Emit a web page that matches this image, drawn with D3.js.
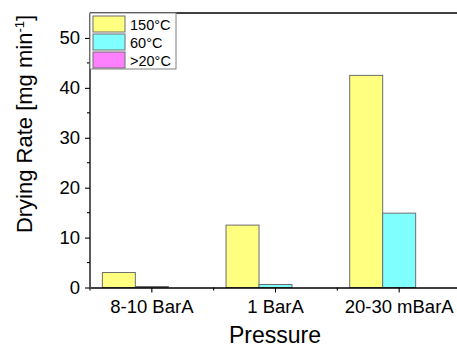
<!DOCTYPE html>
<html>
<head>
<meta charset="utf-8">
<script src="https://cdn.jsdelivr.net/npm/d3@7"></script>
<style>
  html, body { margin: 0; padding: 0; background: #fff; }
  svg { display: block; font-family: "Liberation Sans", Arial, sans-serif; }
</style>
</head>
<body>
<svg id="chart" width="457" height="349"></svg>
<script>
// Pressure conditions on the x axis
const categories = ["8-10 BarA", "1 BarA", "20-30 mBarA"];
// Drying temperature series
const seriesNames = ["150°C", "60°C", ">20°C"];
const rate150 = [3.0, 12.5, 42.5];
const rate60 = [0.2, 0.6, 14.9];
const rate20 = [0, 0, 0];
const seriesValues = [rate150, rate60, rate20];
const seriesColors = ["#ffff80", "#80ffff", "#ff80ff"];
const yTicks = [0, 10, 20, 30, 40, 50];
const yMinorTicks = [5, 15, 25, 35, 45];

const svg = d3.select("#chart");
const plotLeft = 90, plotRight = 461, plotTop = 13, plotBottom = 287.5;

const x = d3.scaleBand().domain(categories).range([plotLeft, plotRight]).paddingInner(0).paddingOuter(0);
const y = d3.scaleLinear().domain([0, 55]).range([plotBottom, plotTop]);

// Series positions inside each pressure group (80% of the band used)
const xs = d3.scaleBand().domain(seriesNames)
  .range([x.bandwidth() * 0.1, x.bandwidth() * 0.9]).padding(0);

const barData = [];
categories.forEach((c, i) => {
  seriesNames.forEach((s, j) => {
    barData.push({ cat: c, series: s, value: seriesValues[j][i], color: seriesColors[j] });
  });
});

svg.append("g").selectAll("rect").data(barData).join("rect")
  .attr("x", d => x(d.cat) + xs(d.series))
  .attr("y", d => y(d.value))
  .attr("width", xs.bandwidth())
  .attr("height", d => y(0) - y(d.value))
  .attr("fill", d => d.color)
  .attr("stroke", "#6e6e6e")
  .attr("stroke-width", 1);

// Top frame line
svg.append("line")
  .attr("x1", plotLeft).attr("x2", plotRight)
  .attr("y1", plotTop).attr("y2", plotTop)
  .attr("stroke", "#000").attr("stroke-width", 1.3);

// Y axis
const yAxis = svg.append("g").attr("transform", `translate(${plotLeft},0)`)
  .call(d3.axisLeft(y).tickValues(yTicks).tickSize(5).tickPadding(5).tickSizeOuter(0));
yAxis.select(".domain").attr("stroke-width", 1.3)
  .attr("d", `M0,${plotTop}V${plotBottom}`);
yAxis.selectAll(".tick line").attr("stroke-width", 1.1);
yAxis.selectAll(".tick text").attr("font-size", 18.5).attr("font-family", "Liberation Sans, Arial, sans-serif").attr("fill", "#000");
yAxis.selectAll(".minor").data(yMinorTicks).join("line")
  .attr("class", "minor")
  .attr("x1", -3).attr("x2", 0)
  .attr("y1", d => y(d)).attr("y2", d => y(d))
  .attr("stroke", "#000").attr("stroke-width", 1.1);

// X axis
const xAxis = svg.append("g").attr("transform", `translate(0,${plotBottom})`)
  .call(d3.axisBottom(x).tickSize(5).tickPadding(7).tickSizeOuter(0));
xAxis.select(".domain").attr("stroke-width", 1.3);
xAxis.selectAll(".tick line").attr("stroke-width", 1.1);
xAxis.selectAll(".tick text").attr("font-size", 18.5).attr("font-family", "Liberation Sans, Arial, sans-serif").attr("fill", "#000");
xAxis.selectAll(".minor").data(categories).join("line")
  .attr("class", "minor")
  .attr("x1", d => x(d)).attr("x2", d => x(d))
  .attr("y1", 0).attr("y2", 3)
  .attr("stroke", "#000").attr("stroke-width", 1.1);

// Axis titles
svg.append("text")
  .attr("x", 275).attr("y", 343)
  .attr("text-anchor", "middle")
  .attr("font-size", 23)
  .text("Pressure");

const yTitle = svg.append("text")
  .attr("transform", "translate(32,124) rotate(-90)")
  .attr("text-anchor", "middle")
  .attr("font-size", 22);
yTitle.append("tspan").text("Drying Rate [mg min");
yTitle.append("tspan").attr("font-size", 13).attr("dy", -8).text("-1");
yTitle.append("tspan").attr("dy", 8).text("]");

// Legend
const legend = svg.append("g").attr("transform", `translate(${plotLeft},${plotTop})`);
legend.append("rect")
  .attr("x", 0).attr("y", 0).attr("width", 86).attr("height", 56)
  .attr("fill", "#fff").attr("stroke", "#808080").attr("stroke-width", 1);
const items = legend.selectAll("g.item").data(seriesNames).join("g")
  .attr("class", "item")
  .attr("transform", (d, i) => `translate(3,${3 + i * 18})`);
items.append("rect")
  .attr("width", 32).attr("height", 16)
  .attr("fill", (d, i) => seriesColors[i])
  .attr("stroke", "#6e6e6e").attr("stroke-width", 1);
items.append("text")
  .attr("x", 37).attr("y", 13.5)
  .attr("font-size", 14.5)
  .text(d => d);
</script>
</body>
</html>
